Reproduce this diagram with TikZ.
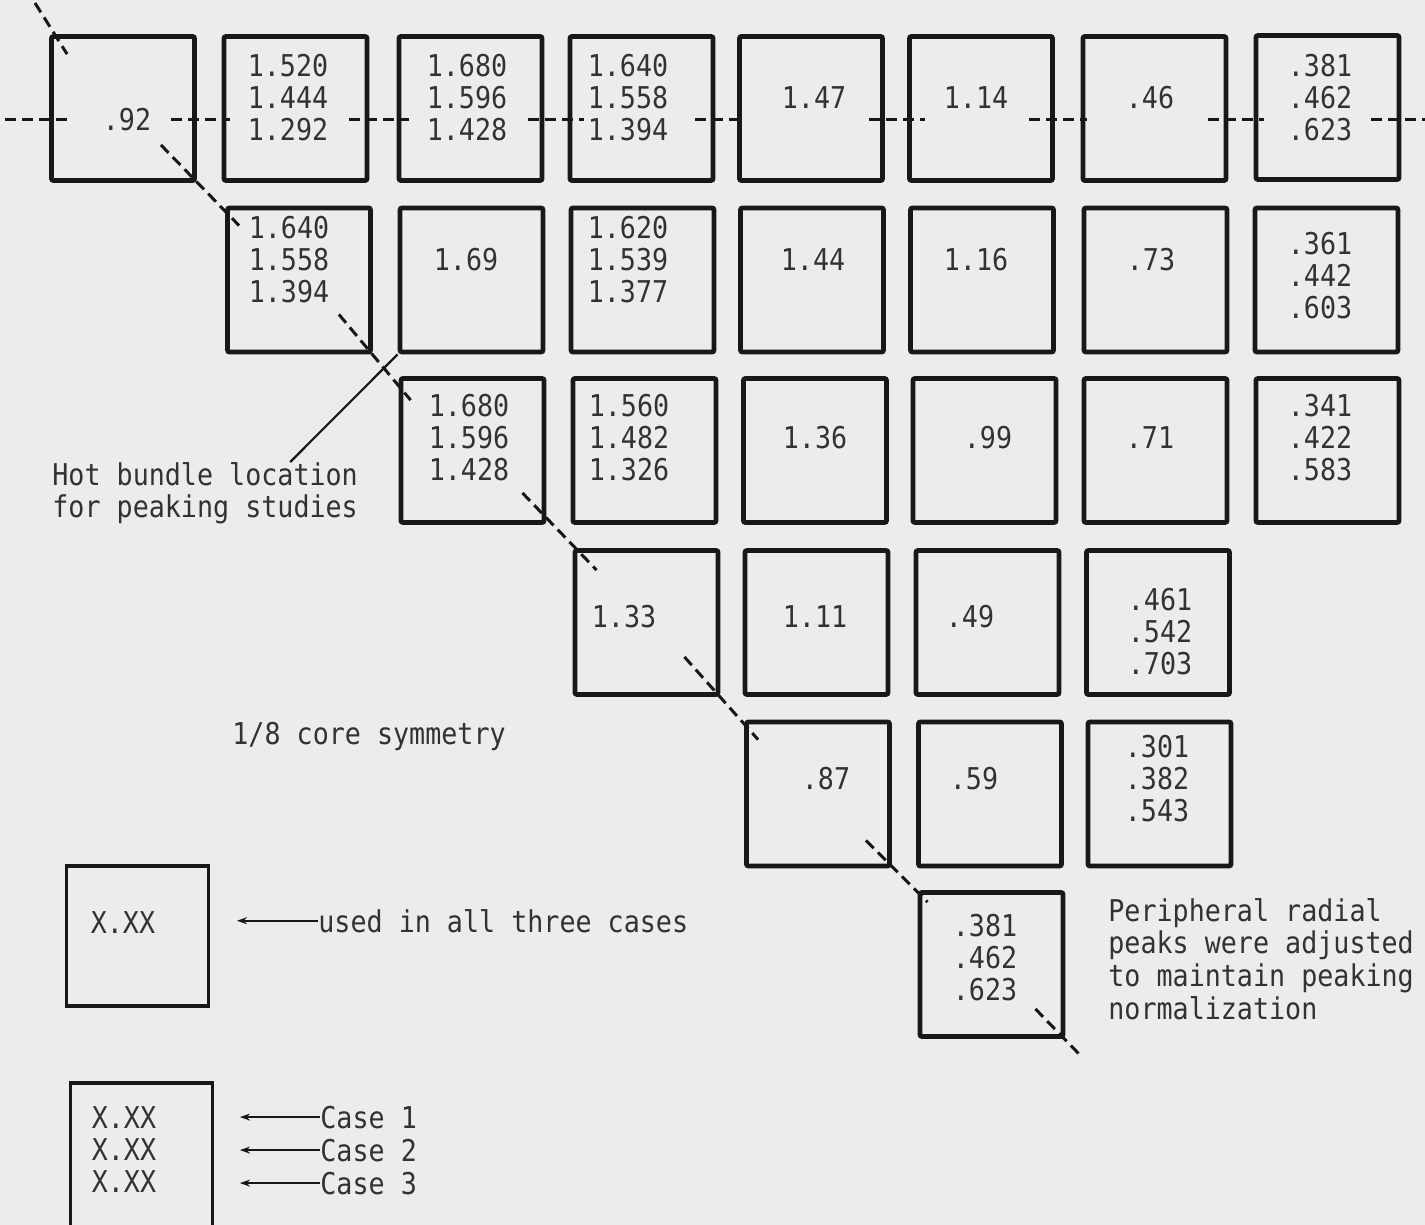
\documentclass[tikz,border=0pt]{standalone}
\usepackage{fontspec}
\newfontfamily\tw[FakeStretch=0.89]{DejaVu Sans Mono}
\usetikzlibrary{calc,arrows.meta}
\definecolor{paper}{RGB}{236,236,234}
\definecolor{ink}{RGB}{24,24,24}
\definecolor{txt}{RGB}{50,50,50}
\begin{document}
\begin{tikzpicture}[x=0.5pt,y=-0.5pt,
  cell/.style={draw=ink,line width=2.4pt,minimum width=71.5pt,minimum height=72pt,inner sep=0pt,rounded corners=1pt},
  legbox/.style={draw=ink,line width=1.7pt,minimum width=71pt,inner sep=0pt},
  val/.style={font=\tw\fontsize{15}{16}\selectfont,text=txt,align=center,inner sep=0pt},
  lbl/.style={font=\tw\fontsize{15}{16.3}\selectfont,text=txt,align=left,inner sep=0pt},
  cline/.style={draw=ink,line width=1.5pt,dash pattern=on 5.5pt off 3pt},
  lead/.style={draw=ink,line width=1.1pt},
  arr/.style={draw=ink,line width=1.1pt,-{Stealth[length=5pt,width=3.5pt]}}]
\fill[paper] (0,0) rectangle (1425,1225);
\useasboundingbox (0,0) rectangle (1425,1225);
% ---- boxes: row 1
\node[cell] (b11) at (123,108.5) {};
\node[cell] (b12) at (295.5,108.5) {};
\node[cell] (b13) at (470.5,108.5) {};
\node[cell] (b14) at (641.5,108.5) {};
\node[cell] (b15) at (811,108.5) {};
\node[cell] (b16) at (981,108.5) {};
\node[cell] (b17) at (1154.5,108.5) {};
\node[cell] (b18) at (1327.5,107.5) {};
% row 2
\node[cell] (b22) at (299,280) {};
\node[cell] (b23) at (471.5,280) {};
\node[cell] (b24) at (642.5,280) {};
\node[cell] (b25) at (812,280) {};
\node[cell] (b26) at (982,280) {};
\node[cell] (b27) at (1155.5,280) {};
\node[cell] (b28) at (1326.5,280) {};
% row 3
\node[cell] (b33) at (472.5,450.5) {};
\node[cell] (b34) at (644.5,450.5) {};
\node[cell] (b35) at (815,450.5) {};
\node[cell] (b36) at (984.5,450.5) {};
\node[cell] (b37) at (1155.5,450.5) {};
\node[cell] (b38) at (1327.5,450.5) {};
% row 4
\node[cell] (b44) at (646.5,622.5) {};
\node[cell] (b45) at (816.5,622.5) {};
\node[cell] (b46) at (987.5,622.5) {};
\node[cell] (b47) at (1158,622.5) {};
% row 5
\node[cell] (b55) at (818,794) {};
\node[cell] (b56) at (990,794) {};
\node[cell] (b57) at (1159.5,794) {};
% row 6
\node[cell] (b66) at (991.5,964.5) {};
% ---- values
\node[val] (t11) at (127,120) {.92};
\node[val] (t12) at (288,98) {1.520\\1.444\\1.292};
\node[val] (t13) at (467,98) {1.680\\1.596\\1.428};
\node[val] (t14) at (628,98) {1.640\\1.558\\1.394};
\node[val] (t15) at (814,98) {1.47};
\node[val] (t16) at (976,98) {1.14};
\node[val] (t17) at (1150,98) {.46};
\node[val] (t18) at (1320,98) {.381\\.462\\.623};
\node[val] (t22) at (289,260) {1.640\\1.558\\1.394};
\node[val] (t23) at (466,260) {1.69};
\node[val] (t24) at (628,260) {1.620\\1.539\\1.377};
\node[val] (t25) at (813,260) {1.44};
\node[val] (t26) at (976,260) {1.16};
\node[val] (t27) at (1151,260) {.73};
\node[val] (t28) at (1320,276) {.361\\.442\\.603};
\node[val] (t33) at (469,438) {1.680\\1.596\\1.428};
\node[val] (t34) at (629,438) {1.560\\1.482\\1.326};
\node[val] (t35) at (815,438) {1.36};
\node[val] (t36) at (988,438) {.99};
\node[val] (t37) at (1150,438) {.71};
\node[val] (t38) at (1320,438) {.341\\.422\\.583};
\node[val] (t44) at (624,617) {1.33};
\node[val] (t45) at (815,617) {1.11};
\node[val] (t46) at (970,617) {.49};
\node[val] (t47) at (1160,632) {.461\\.542\\.703};
\node[val] (t55) at (826,779) {.87};
\node[val] (t56) at (974,779) {.59};
\node[val] (t57) at (1157,779) {.301\\.382\\.543};
\node[val] (t66) at (985,958) {.381\\.462\\.623};
% ---- horizontal symmetry line (dashed, broken at the texts)
\coordinate (h) at (0,120);
\coordinate (hS) at (5,120);
\coordinate (hE) at (1425,120);
\draw[cline] (hS) -- ($(b11.west |- h)+(20,0)$);
\draw[cline] ($(b11.east |- h)+(-26,0)$) -- ($(b12.west |- h)+(8,0)$);
\draw[cline] ($(b12.east |- h)+(-20,0)$) -- ($(b13.west |- h)+(12,0)$);
\draw[cline] ($(b13.east |- h)+(-16,0)$) -- ($(b14.west |- h)+(16,0)$);
\draw[cline] ($(b14.east |- h)+(-20,0)$) -- ($(b15.west |- h)+(8,0)$);
\draw[cline] ($(b15.east |- h)+(-16,0)$) -- ($(b16.west |- h)+(18,0)$);
\draw[cline] ($(b16.east |- h)+(-26,0)$) -- ($(b17.west |- h)+(6,0)$);
\draw[cline] ($(b17.east |- h)+(-20,0)$) -- ($(b18.west |- h)+(10,0)$);
\draw[cline] ($(b18.east |- h)+(-30,0)$) -- (hE);
% ---- diagonal symmetry line
\coordinate (dS) at (35,3);
\coordinate (dE) at (1080,1055);
\draw[cline] (dS) -- ($(b11.north west)+(18,20)$);
\draw[cline] ($(b11.south east)+(-36,-38)$) -- ($(b22.north west)+(14,20)$);
\draw[cline] ($(b22.south east)+(-34,-40)$) -- ($(b33.north west)+(12,24)$);
\draw[cline] ($(b33.south east)+(-24,-32)$) -- ($(b44.north west)+(24,22)$);
\draw[cline] ($(b44.south east)+(-36,-40)$) -- ($(b55.north west)+(14,20)$);
\draw[cline] ($(b55.south east)+(-26,-28)$) -- ($(b66.north west)+(10,12)$);
\draw[cline] ($(b66.south east)+(-30,-30)$) -- (dE);
% ---- annotations
\node[lbl,anchor=north west] (hot) at (52,462) {Hot bundle location\\for peaking studies};
\draw[lead] ($(hot.north east)+(-68,0)$) -- (b23.south west);
\node[lbl,anchor=base west] (sym) at (232,744) {1/8 core symmetry};
\node[lbl,anchor=north west] (per) at (1108,898) {Peripheral radial\\peaks were adjusted\\to maintain peaking\\normalization};
% ---- legend
\node[legbox,minimum height=70pt] (L1) at (137.5,936) {};
\node[val] (x1) at (123,923) {X.XX};
\node[lbl,anchor=base west] (u1) at (318,932) {used in all three cases};
\coordinate (a1) at (237,0);
\draw[arr] (u1.west) -- (a1 |- u1.west);
\node[legbox,minimum height=73pt] (L2) at (141.5,1156) {};
\node[val] (x2) at (124,1150) {X.XX\\X.XX\\X.XX};
\node[lbl,anchor=base west] (c1) at (320,1128) {Case 1};
\node[lbl,anchor=base west] (c2) at (320,1161) {Case 2};
\node[lbl,anchor=base west] (c3) at (320,1194) {Case 3};
\coordinate (a2) at (240,0);
\draw[arr] (c1.west) -- (a2 |- c1.west);
\draw[arr] (c2.west) -- (a2 |- c2.west);
\draw[arr] (c3.west) -- (a2 |- c3.west);
\end{tikzpicture}
\end{document}
